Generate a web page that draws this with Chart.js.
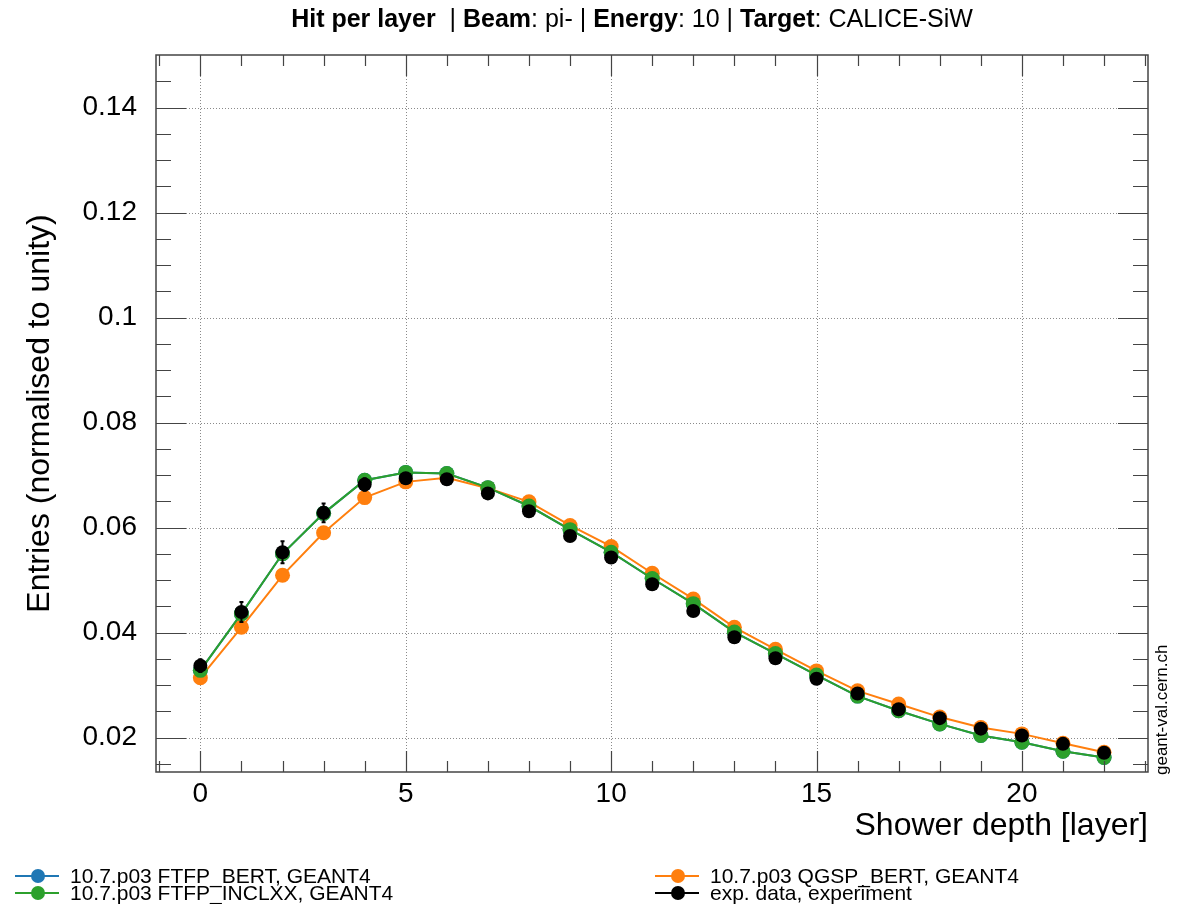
<!DOCTYPE html>
<html>
<head>
<meta charset="utf-8">
<title>Hit per layer</title>
<script src="https://cdn.jsdelivr.net/npm/chart.js@4.4.1/dist/chart.umd.min.js"></script>
<style>
    html, body { margin: 0; padding: 0; background: #fff; }
    #wrap { width: 1187px; height: 904px; }
</style>
</head>
<body>
<div id="wrap"><canvas id="layerChart" width="1187" height="904"></canvas></div>
<script>
// Shower depth (layer) and normalised entries per layer
const layers = [0, 1, 2, 3, 4, 5, 6, 7, 8, 9, 10, 11, 12, 13, 14, 15, 16, 17, 18, 19, 20, 21, 22];
const ftfpBert = [0.0328, 0.0436, 0.0550, 0.0627, 0.0690, 0.0705, 0.0703, 0.0676, 0.0641, 0.0596, 0.0553, 0.0503,
    0.0455, 0.0401, 0.0360, 0.0319, 0.0279, 0.0251, 0.0226, 0.0204, 0.0191, 0.0174, 0.0162];
const ftfpInclxx = [0.0328, 0.0436, 0.0550, 0.0627, 0.0690, 0.0705, 0.0703, 0.0676, 0.0641, 0.0596, 0.0553, 0.0503,
    0.0455, 0.0401, 0.0360, 0.0319, 0.0279, 0.0251, 0.0226, 0.0204, 0.0191, 0.0174, 0.0162];
const qgspBert = [0.0314, 0.0410, 0.0509, 0.0590, 0.0657, 0.0687, 0.0695, 0.0675, 0.0649, 0.0604, 0.0564, 0.0513,
    0.0464, 0.0410, 0.0368, 0.0327, 0.0289, 0.0264, 0.0239, 0.0219, 0.0207, 0.0189, 0.0172];
const expData = [0.0337, 0.0439, 0.0553, 0.0628, 0.0682, 0.0694, 0.0692, 0.0665, 0.0631, 0.0584, 0.0543, 0.0492,
    0.0441, 0.0391, 0.0351, 0.0312, 0.0284, 0.0254, 0.0237, 0.0217, 0.0204, 0.0188, 0.0171];
const expError = [0.0012, 0.0019, 0.0021, 0.0018, 0.0012, 0.0009, 0.0008, 0.0007, 0.0007, 0.0006, 0.0006, 0.0006,
    0.0005, 0.0005, 0.0005, 0.0004, 0.0004, 0.0004, 0.0004, 0.0003, 0.0003, 0.0003, 0.0003];

const xTickValues = [0, 5, 10, 15, 20];
const yTickValues = [0.02, 0.04, 0.06, 0.08, 0.10, 0.12, 0.14];

const FONT = '"Liberation Sans", Arial, Helvetica, sans-serif';

function points(ys) {
    return layers.map((x, i) => ({ x: x, y: ys[i] }));
}

// dotted grid at major ticks, drawn under the data
const gridPlugin = {
    id: 'rootGrid',
    beforeDatasetsDraw(chart) {
        const { ctx, chartArea: a, scales: { x, y } } = chart;
        ctx.save();
        ctx.strokeStyle = '#8a8a8a';
        ctx.lineWidth = 1;
        ctx.setLineDash([1, 2]);
        xTickValues.forEach(v => {
            const px = Math.round(x.getPixelForValue(v)) + 0.5;
            ctx.beginPath();
            ctx.moveTo(px, a.top);
            ctx.lineTo(px, a.bottom);
            ctx.stroke();
        });
        yTickValues.forEach(v => {
            const py = Math.round(y.getPixelForValue(v)) + 0.5;
            ctx.beginPath();
            ctx.moveTo(a.left, py);
            ctx.lineTo(a.right, py);
            ctx.stroke();
        });
        ctx.restore();
    }
};

// error bars on the data points, frame, ticks on all four sides, title, legend
const decorPlugin = {
    id: 'rootDecor',
    afterDatasetsDraw(chart) {
        const { ctx, chartArea: a, scales: { x, y } } = chart;
        ctx.save();

        // error bars
        ctx.strokeStyle = '#000';
        ctx.lineWidth = 2;
        layers.forEach((l, i) => {
            const px = x.getPixelForValue(l);
            const top = y.getPixelForValue(expData[i] + expError[i]);
            const bot = y.getPixelForValue(expData[i] - expError[i]);
            ctx.beginPath();
            ctx.moveTo(px, top);
            ctx.lineTo(px, bot);
            ctx.moveTo(px - 2, top);
            ctx.lineTo(px + 2, top);
            ctx.moveTo(px - 2, bot);
            ctx.lineTo(px + 2, bot);
            ctx.stroke();
        });

        // frame
        ctx.strokeStyle = '#444';
        ctx.lineWidth = 1.5;
        ctx.strokeRect(a.left, a.top, a.right - a.left, a.bottom - a.top);

        // x ticks (bottom and top)
        ctx.lineWidth = 1.2;
        for (let v = -1; v <= 23; v++) {
            const px = Math.round(x.getPixelForValue(v)) + 0.5;
            if (px < a.left || px > a.right) continue;
            const len = (v % 5 === 0) ? 21 : 11;
            ctx.beginPath();
            ctx.moveTo(px, a.bottom);
            ctx.lineTo(px, a.bottom - len);
            ctx.moveTo(px, a.top);
            ctx.lineTo(px, a.top + len);
            ctx.stroke();
        }

        // y ticks (left and right)
        for (let k = 3; k <= 29; k++) {
            const v = k * 0.005;
            const py = Math.round(y.getPixelForValue(v)) + 0.5;
            if (py < a.top || py > a.bottom) continue;
            const len = (k % 4 === 0) ? 30 : 15;
            ctx.beginPath();
            ctx.moveTo(a.left, py);
            ctx.lineTo(a.left + len, py);
            ctx.moveTo(a.right, py);
            ctx.lineTo(a.right - len, py);
            ctx.stroke();
        }
        ctx.restore();
    },
    afterDraw(chart) {
        const { ctx } = chart;
        ctx.save();
        ctx.fillStyle = '#000';
        ctx.textBaseline = 'middle';

        // title, bold keys and normal values
        const parts = [
            ['Hit per layer', true], ['  | ', false], ['Beam', true], [': pi- | ', false],
            ['Energy', true], [': 10 | ', false], ['Target', true], [': CALICE-SiW', false]
        ];
        const fontOf = b => (b ? 'bold ' : '') + '25px ' + FONT;
        let total = 0;
        parts.forEach(p => { ctx.font = fontOf(p[1]); total += ctx.measureText(p[0]).width; });
        let tx = 632 - total / 2;
        ctx.textAlign = 'left';
        parts.forEach(p => {
            ctx.font = fontOf(p[1]);
            ctx.fillText(p[0], tx, 20);
            tx += ctx.measureText(p[0]).width;
        });

        // legend
        const entries = [
            { label: '10.7.p03 FTFP_BERT, GEANT4', color: '#1f77b4', x: 15, y: 876 },
            { label: '10.7.p03 FTFP_INCLXX, GEANT4', color: '#2ca02c', x: 15, y: 893 },
            { label: '10.7.p03 QGSP_BERT, GEANT4', color: '#ff7f0e', x: 655, y: 876 },
            { label: 'exp. data, experiment', color: '#000000', x: 655, y: 893 }
        ];
        ctx.font = '21px ' + FONT;
        entries.forEach(e => {
            ctx.strokeStyle = e.color;
            ctx.fillStyle = e.color;
            ctx.lineWidth = 2;
            ctx.beginPath();
            ctx.moveTo(e.x, e.y);
            ctx.lineTo(e.x + 44, e.y);
            ctx.stroke();
            ctx.beginPath();
            ctx.arc(e.x + 23, e.y, 7, 0, Math.PI * 2);
            ctx.fill();
            ctx.fillStyle = '#000';
            ctx.fillText(e.label, e.x + 55, e.y + 1);
        });

        // site tag
        ctx.translate(1167, 775);
        ctx.rotate(-Math.PI / 2);
        ctx.font = '17px ' + FONT;
        ctx.textBaseline = 'alphabetic';
        ctx.fillText('geant-val.cern.ch', 0, 0);
        ctx.restore();
    }
};

function lineSet(label, ys, color, order) {
    return {
        label: label,
        data: points(ys),
        borderColor: color,
        backgroundColor: color,
        borderWidth: 2,
        pointRadius: 7.5,
        pointBorderWidth: 0,
        pointHoverRadius: 7.5,
        tension: 0,
        order: order
    };
}

const ctx = document.getElementById('layerChart');
new Chart(ctx, {
    type: 'line',
    data: {
        datasets: [
            {
                label: 'exp. data, experiment',
                data: points(expData),
                borderColor: '#000',
                backgroundColor: '#000',
                showLine: false,
                pointRadius: 7,
                pointBorderWidth: 0,
                order: 0
            },
            lineSet('10.7.p03 FTFP_INCLXX, GEANT4', ftfpInclxx, '#2ca02c', 1),
            lineSet('10.7.p03 QGSP_BERT, GEANT4', qgspBert, '#ff7f0e', 2),
            lineSet('10.7.p03 FTFP_BERT, GEANT4', ftfpBert, '#1f77b4', 3)
        ]
    },
    options: {
        responsive: false,
        devicePixelRatio: 1,
        animation: false,
        layout: { padding: { top: 55, right: 39, left: 0, bottom: 0 } },
        plugins: {
            legend: { display: false },
            title: { display: false },
            tooltip: { enabled: false }
        },
        scales: {
            x: {
                type: 'linear',
                min: -1.08,
                max: 23.07,
                afterBuildTicks: axis => { axis.ticks = xTickValues.map(v => ({ value: v })); },
                afterFit: axis => { axis.height = 132; },
                grid: { display: false, drawTicks: false },
                border: { display: false },
                ticks: {
                    color: '#000',
                    padding: 5,
                    font: { family: FONT, size: 28 },
                    callback: v => String(v)
                },
                title: {
                    display: true,
                    text: 'Shower depth [layer]',
                    align: 'end',
                    color: '#000',
                    font: { family: FONT, size: 32 },
                    padding: { top: 0, bottom: 59 }
                }
            },
            y: {
                type: 'linear',
                min: 0.01344,
                max: 0.15,
                afterBuildTicks: axis => { axis.ticks = yTickValues.map(v => ({ value: v })); },
                afterFit: axis => { axis.width = 156; },
                grid: { display: false, drawTicks: false },
                border: { display: false },
                ticks: {
                    color: '#000',
                    padding: 19,
                    font: { family: FONT, size: 28 },
                    callback: v => String(+v.toFixed(2))
                },
                title: {
                    display: true,
                    text: 'Entries (normalised to unity)',
                    color: '#000',
                    font: { family: FONT, size: 32 },
                    padding: { top: 21, bottom: 0 }
                }
            }
        }
    },
    plugins: [gridPlugin, decorPlugin]
});
</script>
</body>
</html>
